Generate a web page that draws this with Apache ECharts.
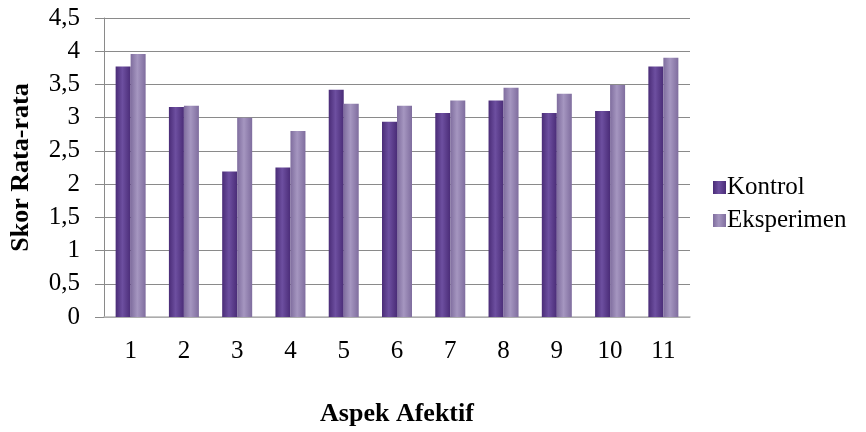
<!DOCTYPE html>
<html>
<head>
<meta charset="utf-8">
<script src="https://cdn.jsdelivr.net/npm/echarts@6/dist/echarts.min.js"></script>
<style>html,body{margin:0;padding:0;background:#fff}#c{width:866px;height:432px}</style>
</head>
<body>
<div id="c"></div>
<script>
const categories = ['1','2','3','4','5','6','7','8','9','10','11'];
const kontrol = [3.77, 3.16, 2.19, 2.25, 3.42, 2.94, 3.07, 3.26, 3.07, 3.10, 3.77];
const eksperimen = [3.96, 3.18, 3.00, 2.80, 3.21, 3.18, 3.26, 3.45, 3.36, 3.49, 3.90];
const seriesNames = ['Kontrol', 'Eksperimen'];
const yTicks = [0, 0.5, 1, 1.5, 2, 2.5, 3, 3.5, 4, 4.5];

const font = 'Liberation Serif';
function grad(edge, mid) {
  return new echarts.graphic.LinearGradient(0, 0, 1, 0, [
    {offset: 0, color: edge}, {offset: 0.45, color: mid}, {offset: 1, color: edge}
  ]);
}
const chart = echarts.init(document.getElementById('c'));
chart.setOption({
  animation: false,
  textStyle: {fontFamily: font},
  grid: {left: 104, right: 176, top: 18, bottom: 113},
  legend: {
    orient: 'vertical', left: 708, top: 170, itemGap: 8,
    icon: 'rect', itemWidth: 13, itemHeight: 13,
    textStyle: {fontFamily: font, fontSize: 25, color: '#000', padding: [0,0,0,-4]},
    data: seriesNames
  },
  xAxis: {
    type: 'category', data: categories,
    name: 'Aspek Afektif', nameLocation: 'middle', nameGap: 84,
    nameTextStyle: {fontFamily: font, fontSize: 26, fontWeight: 'bold', color: '#000'},
    axisLine: {lineStyle: {color: '#b8b8b8', width: 1.5}},
    axisTick: {show: false},
    axisLabel: {fontFamily: font, fontSize: 25, color: '#000', margin: 22}
  },
  yAxis: {
    type: 'value', min: yTicks[0], max: yTicks[yTicks.length-1], interval: 0.5,
    name: 'Skor Rata-rata', nameLocation: 'middle', nameGap: 70,
    nameTextStyle: {fontFamily: font, fontSize: 26, fontWeight: 'bold', color: '#000'},
    axisLine: {show: true, lineStyle: {color: '#8a8a8a'}},
    axisTick: {show: true, length: 9, lineStyle: {color: '#8a8a8a'}},
    splitLine: {lineStyle: {color: '#8a8a8a'}},
    axisLabel: {fontFamily: font, fontSize: 25, color: '#000', margin: 24,
      formatter: v => String(v).replace('.', ',')}
  },
  series: [
    {name: seriesNames[0], type: 'bar', data: kontrol, barWidth: 15, barGap: '0%',
     itemStyle: {color: grad('#4a2c77', '#6d4fa0')}},
    {name: seriesNames[1], type: 'bar', data: eksperimen, barWidth: 15, barGap: '0%',
     itemStyle: {color: grad('#7f6d9e', '#a596c0')}}
  ]
});
</script>
</body>
</html>
